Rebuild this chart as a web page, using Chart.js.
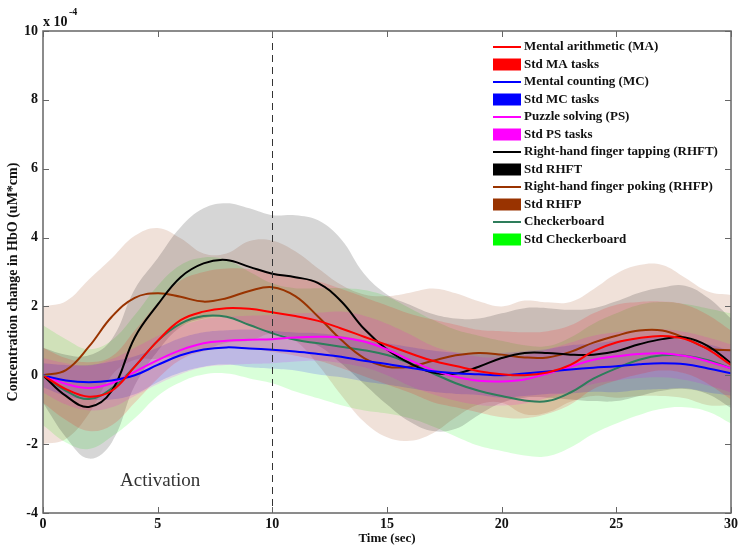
<!DOCTYPE html>
<html>
<head>
<meta charset="utf-8">
<script src="https://cdn.jsdelivr.net/npm/chart.js@4.4.1/dist/chart.umd.min.js"></script>
<style>
  html, body { margin: 0; padding: 0; background: #fff; }
  #wrap { width: 745px; height: 554px; position: relative; }
</style>
</head>
<body>
<div id="wrap"><canvas id="c"></canvas></div>
<script>
// time axis (sec) and values in units of 1e-4 uM*cm
const time = [0,1,2,3,4,5,6,7,8,9,10,11,12,13,14,15,16,17,18,19,20,21,22,23,24,25,26,27,28,29,30];

const maMean   = [0,-0.4,-0.62,-0.45,0.25,1.0,1.6,1.85,1.95,1.93,1.83,1.72,1.58,1.36,1.12,0.88,0.64,0.42,0.27,0.12,0.03,0.0,0.08,0.3,0.7,0.95,1.08,1.14,1.05,0.75,0.3];
const maStd    = [0.8,0.9,1.0,1.0,1.05,1.1,1.15,1.15,1.15,1.15,1.15,1.15,1.15,1.15,1.15,1.15,1.15,1.2,1.2,1.2,1.25,1.25,1.2,1.15,1.1,1.1,1.05,1.0,1.0,1.0,1.0];
const mcMean   = [0,-0.15,-0.2,-0.15,0.0,0.3,0.58,0.75,0.81,0.78,0.74,0.69,0.62,0.54,0.42,0.33,0.22,0.12,0.06,0.03,0.0,0.05,0.11,0.17,0.22,0.26,0.32,0.35,0.32,0.2,0.06];
const mcStd    = [0.35,0.45,0.5,0.55,0.55,0.5,0.5,0.5,0.5,0.55,0.55,0.55,0.6,0.6,0.6,0.6,0.6,0.6,0.6,0.6,0.65,0.65,0.65,0.7,0.7,0.75,0.75,0.75,0.7,0.7,0.65];
const psMean   = [0,-0.25,-0.37,-0.23,0.1,0.44,0.73,0.93,1.0,1.03,1.05,1.1,1.12,1.1,0.98,0.75,0.44,0.15,-0.04,-0.16,-0.18,-0.12,0.05,0.25,0.45,0.55,0.62,0.64,0.56,0.4,0.2];
const psStd    = [0.5,0.6,0.65,0.7,0.7,0.7,0.7,0.7,0.7,0.7,0.7,0.7,0.7,0.75,0.75,0.75,0.75,0.7,0.7,0.7,0.7,0.7,0.7,0.7,0.7,0.7,0.7,0.7,0.7,0.7,0.7];
const rhftMean = [0,-0.6,-0.92,-0.45,1.1,2.05,2.85,3.25,3.35,3.15,2.95,2.85,2.68,2.15,1.35,0.75,0.35,0.08,0.05,0.25,0.5,0.65,0.65,0.6,0.6,0.7,0.9,1.05,1.1,0.85,0.35];
const rhftStd  = [0.8,1.2,1.5,1.5,1.4,1.35,1.45,1.6,1.65,1.7,1.7,1.8,1.82,1.8,1.6,1.6,1.7,1.7,1.6,1.4,1.3,1.3,1.3,1.3,1.35,1.45,1.5,1.5,1.5,1.4,1.3];
const rhfpMean = [0,0.15,0.83,1.7,2.25,2.38,2.28,2.14,2.24,2.45,2.56,2.3,1.7,1.03,0.5,0.25,0.25,0.42,0.58,0.65,0.6,0.52,0.52,0.68,0.95,1.15,1.3,1.3,1.08,0.78,0.73];
const rhfpStd  = [2.0,2.0,1.95,1.7,1.8,1.9,1.7,1.4,1.3,1.45,1.35,1.3,1.4,1.6,1.85,2.05,2.15,2.1,1.8,1.5,1.4,1.65,1.6,1.45,1.55,1.8,1.9,1.9,1.75,1.65,1.6];
const cbMean   = [0,-0.45,-0.69,-0.38,0.25,1.0,1.5,1.72,1.7,1.46,1.22,1.03,0.93,0.83,0.73,0.59,0.35,0.06,-0.23,-0.45,-0.6,-0.73,-0.75,-0.5,-0.1,0.2,0.45,0.58,0.57,0.44,0.2];
const cbStd    = [1.45,1.5,1.45,1.4,1.5,1.6,1.7,1.7,1.65,1.55,1.45,1.5,1.6,1.7,1.75,1.7,1.6,1.55,1.55,1.6,1.6,1.6,1.6,1.6,1.6,1.6,1.6,1.55,1.5,1.5,1.6];

const yTicks = [-4,-2,0,2,4,6,8,10];
const xTicks = [0,5,10,15,20,25,30];

const series = [
  { label: "Mental arithmetic (MA)", stdLabel: "Std MA tasks", mean: maMean, std: maStd, line: "#ff0000", swatch: "#ff0000", band: "rgba(255,0,0,0.15)" },
  { label: "Mental counting (MC)", stdLabel: "Std MC tasks", mean: mcMean, std: mcStd, line: "#0000ff", swatch: "#0000ff", band: "rgba(0,0,255,0.15)" },
  { label: "Puzzle solving (PS)", stdLabel: "Std PS tasks", mean: psMean, std: psStd, line: "#ff00ff", swatch: "#ff00ff", band: "rgba(255,0,255,0.15)" },
  { label: "Right-hand finger tapping (RHFT)", stdLabel: "Std RHFT", mean: rhftMean, std: rhftStd, line: "#000000", swatch: "#000000", band: "rgba(0,0,0,0.16)" },
  { label: "Right-hand finger poking (RHFP)", stdLabel: "Std RHFP", mean: rhfpMean, std: rhfpStd, line: "#993300", swatch: "#993300", band: "rgba(153,51,0,0.15)" },
  { label: "Checkerboard", stdLabel: "Std Checkerboard", mean: cbMean, std: cbStd, line: "#2e7d5b", swatch: "#00ff00", band: "rgba(0,255,0,0.15)" },
];

const pts = arr => time.map((t, i) => ({ x: t, y: arr[i] }));

// bands sit under the mean lines (higher order = drawn first)
const datasets = [];
series.forEach(s => {
  datasets.push({ data: pts(s.mean.map((m, i) => m + s.std[i])), fill: "+1", backgroundColor: s.band,
    borderWidth: 0, borderColor: "transparent", pointRadius: 0, tension: 0.4, order: 2 });
  datasets.push({ data: pts(s.mean.map((m, i) => m - s.std[i])), fill: false,
    borderWidth: 0, borderColor: "transparent", pointRadius: 0, tension: 0.4, order: 2 });
});
series.forEach(s => {
  datasets.push({ label: s.label, data: pts(s.mean), fill: false, borderColor: s.line,
    borderWidth: 2, pointRadius: 0, tension: 0.4, order: 1 });
});

const SERIF = '"Liberation Serif", "Times New Roman", serif';

const decor = {
  id: "decor",
  afterDatasetsDraw(chart) {
    const { ctx, chartArea: a, scales: { x, y } } = chart;
    ctx.save();
    // dashed marker at 10 s
    ctx.strokeStyle = "#333";
    ctx.lineWidth = 1;
    ctx.setLineDash([7, 5]);
    const x10 = Math.round(x.getPixelForValue(10)) + 0.5;
    ctx.beginPath(); ctx.moveTo(x10, a.top); ctx.lineTo(x10, a.bottom); ctx.stroke();
    ctx.setLineDash([]);

    // box and inward ticks
    ctx.strokeStyle = "#666";
    ctx.lineWidth = 1.5;
    ctx.strokeRect(a.left, a.top, a.right - a.left, a.bottom - a.top);
    ctx.lineWidth = 1;
    ctx.beginPath();
    xTicks.forEach(v => {
      const px = Math.round(x.getPixelForValue(v)) + 0.5;
      ctx.moveTo(px, a.bottom); ctx.lineTo(px, a.bottom - 6);
      ctx.moveTo(px, a.top); ctx.lineTo(px, a.top + 6);
    });
    yTicks.forEach(v => {
      const py = Math.round(y.getPixelForValue(v)) + 0.5;
      ctx.moveTo(a.left, py); ctx.lineTo(a.left + 6, py);
      ctx.moveTo(a.right, py); ctx.lineTo(a.right - 6, py);
    });
    ctx.stroke();

    // exponent label
    ctx.fillStyle = "#111";
    ctx.textBaseline = "middle";
    ctx.textAlign = "left";
    ctx.font = "bold 14px " + SERIF;
    ctx.fillText("x 10", a.left, 22);
    ctx.font = "bold 10px " + SERIF;
    ctx.fillText("-4", a.left + 26, 12);

    // axis titles
    ctx.font = "bold 13px " + SERIF;
    ctx.textAlign = "center";
    ctx.fillText("Time (sec)", (a.left + a.right) / 2, 539);
    ctx.save();
    ctx.translate(13, 282);
    ctx.rotate(-Math.PI / 2);
    ctx.font = "bold 14px " + SERIF;
    ctx.fillText("Concentration change in HbO (uM*cm)", 0, 0);
    ctx.restore();

    // annotation
    ctx.font = "19px " + SERIF;
    ctx.fillStyle = "#333";
    ctx.textAlign = "left";
    ctx.fillText("Activation", 120, 481);

    // legend
    let ly = 47;
    ctx.font = "bold 13px " + SERIF;
    ctx.textAlign = "left";
    series.forEach(s => {
      ctx.strokeStyle = s.line;
      ctx.lineWidth = 2;
      ctx.beginPath(); ctx.moveTo(493, ly); ctx.lineTo(521, ly); ctx.stroke();
      ctx.fillStyle = "#111";
      ctx.fillText(s.label, 524, ly);
      ly += 17.5;
      ctx.fillStyle = s.swatch;
      ctx.fillRect(493, ly - 6, 28, 12);
      ctx.fillStyle = "#111";
      ctx.fillText(s.stdLabel, 524, ly);
      ly += 17.5;
    });
    ctx.restore();
  }
};

new Chart(document.getElementById("c"), {
  type: "line",
  data: { datasets },
  options: {
    responsive: true,
    maintainAspectRatio: false,
    animation: false,
    layout: { padding: { top: 31, right: 14, left: 0, bottom: 0 } },
    plugins: { legend: { display: false }, tooltip: { enabled: false } },
    scales: {
      x: {
        type: "linear", min: 0, max: 30,
        afterBuildTicks: s => { s.ticks = xTicks.map(v => ({ value: v })); },
        afterFit: s => { s.height = 41; },
        ticks: { color: "#111", padding: 3, font: { family: SERIF, size: 14, weight: "bold" } },
        grid: { display: false, drawTicks: false },
        border: { display: false },
      },
      y: {
        min: -4, max: 10,
        afterBuildTicks: s => { s.ticks = yTicks.map(v => ({ value: v })); },
        afterFit: s => { s.width = 43; },
        ticks: { color: "#111", padding: 5, font: { family: SERIF, size: 14, weight: "bold" } },
        grid: { display: false, drawTicks: false },
        border: { display: false },
      },
    },
  },
  plugins: [decor],
});
</script>
</body>
</html>
